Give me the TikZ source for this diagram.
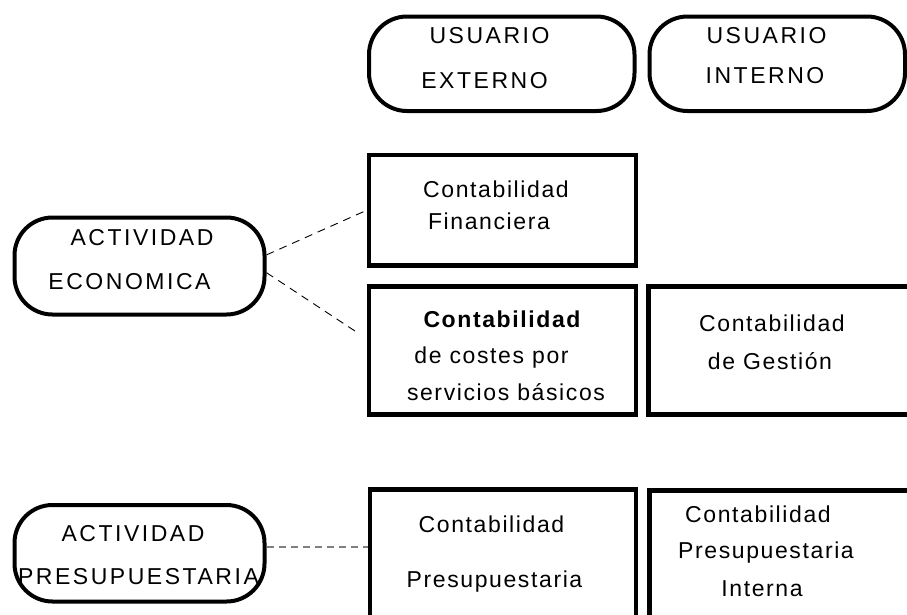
\documentclass[tikz,border=0pt]{standalone}
\usepackage{fontspec}
\setmainfont{Liberation Sans}
\newfontfamily\capsfont[LetterSpace=11]{Liberation Sans}
\newfontfamily\lowfont[LetterSpace=7]{Liberation Sans}
\begin{document}
\begin{tikzpicture}[x=1pt,y=-1pt,
        usuario/.style={draw,line width=4pt,rounded corners=38pt,inner sep=0pt},
        cuenta/.style={draw,line width=4.5pt,inner sep=0pt},
        mayus/.style={anchor=base,inner sep=0pt,font=\capsfont\fontsize{23}{27}\selectfont},
        minus/.style={anchor=base,inner sep=0pt,font=\lowfont\fontsize{23}{27}\selectfont},
        enlace/.style={dash pattern=on 8pt off 6pt,line width=0.9pt},
        presu/.style={dash pattern=on 7pt off 5pt,line width=1.8pt,gray}]
        \useasboundingbox (0,0) rectangle (907,614);
        \node [usuario,minimum width=265.5pt,minimum height=94.5pt] (ext) at (501.75,63.75) {};
        \node [usuario,minimum width=255.5pt,minimum height=94.5pt] (int) at (777.25,63.75) {};
        \node [usuario,minimum width=250pt,minimum height=97pt] (eco) at (139.5,266) {};
        \node [usuario,minimum width=250pt,minimum height=96.5pt] (pre) at (139.5,553.25) {};
        \node [cuenta,minimum width=267pt,minimum height=110.5pt] (fin) at (502.5,210.25) {};
        \node [cuenta,minimum width=267pt,minimum height=128pt] (cos) at (502.5,350.5) {};
        \node [cuenta,minimum width=276.5pt,minimum height=128pt] (ges) at (786.75,350.5) {};
        \node [cuenta,minimum width=266pt,minimum height=127.5pt] (cpre) at (503,553.25) {};
        \node [cuenta,minimum width=275.5pt,minimum height=126.5pt] (cpi) at (787.25,553.75) {};
        \coordinate (ecofin) at (358,333);
        \draw [enlace] (eco.5) -- (fin.west);
        \draw [enlace] (eco.-3) -- (ecofin);
        \draw [presu] (pre.3) -- (pre.3 -| cpre.west);
        \node [mayus] (ext1) at (489.5,43) {USUARIO};
        \node [mayus] (ext2) at (484.5,88) {EXTERNO};
        \node [mayus] (int1) at (766.5,43) {USUARIO};
        \node [mayus] (int2) at (765,83) {INTERNO};
        \node [mayus] (eco1) at (142,245) {ACTIVIDAD};
        \node [mayus] (eco2) at (129.5,289) {ECONOMICA};
        \node [mayus] (pre1) at (133,541) {ACTIVIDAD};
        \node [mayus] (pre2) at (138.5,584) {PRESUPUESTARIA};
        \node [minus] (fin1) at (496,197) {Contabilidad};
        \node [minus] (fin2) at (489,229) {Financiera};
        \node [minus] (cos1) at (502,327) {\bfseries Contabilidad};
        \node [minus] (cos2) at (491.5,363) {de costes por};
        \node [minus] (cos3) at (506,400) {servicios básicos};
        \node [minus] (ges1) at (772,331) {Contabilidad};
        \node [minus] (ges2) at (770,369) {de Gestión};
        \node [minus] (cpre1) at (491.5,532) {Contabilidad};
        \node [minus] (cpre2) at (494.5,587) {Presupuestaria};
        \node [minus] (cpi1) at (758,522) {Contabilidad};
        \node [minus] (cpi2) at (766,558) {Presupuestaria};
        \node [minus] (cpi3) at (762,596) {Interna};

    \end{tikzpicture}
\end{document}
